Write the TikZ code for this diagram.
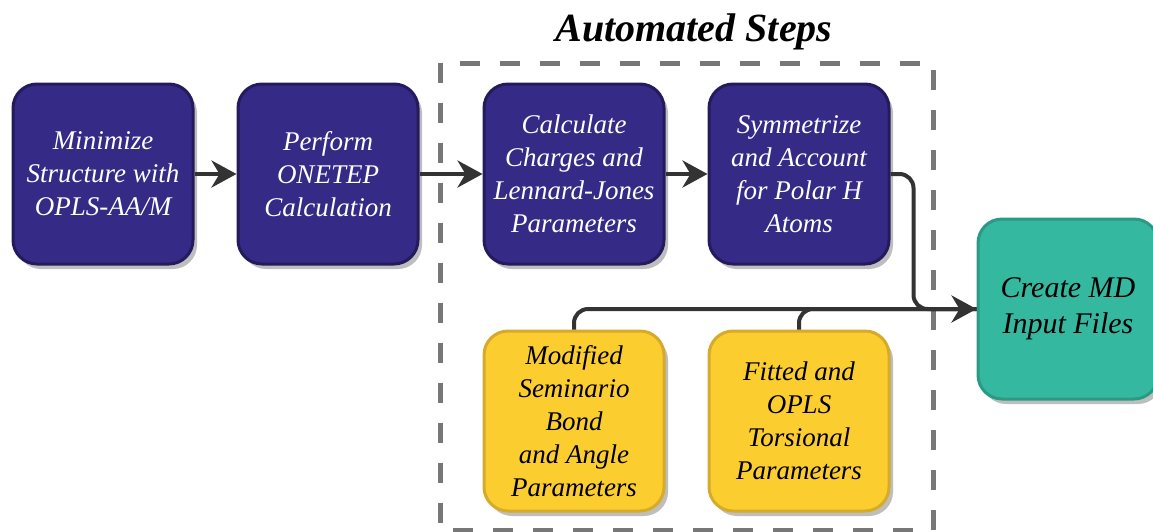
\documentclass[tikz,border=0pt]{standalone}
\usepackage{fontspec}
\setmainfont{Liberation Serif}
\usetikzlibrary{arrows.meta,shadows}
\definecolor{bluefill}{HTML}{362A87}
\definecolor{blueline}{HTML}{231B5C}
\definecolor{yelfill}{HTML}{FBCD2F}
\definecolor{yelline}{HTML}{D6AA2B}
\definecolor{grnfill}{HTML}{34B9A0}
\definecolor{grnline}{HTML}{2A9A85}
\definecolor{shadowgray}{HTML}{BEBEBE}
\definecolor{connclr}{HTML}{333333}
\definecolor{dashgray}{HTML}{777777}
\tikzset{
  stepbox/.style={rectangle, rounded corners=24pt, minimum width=180pt, minimum height=180pt,
    line width=3pt, align=center, inner sep=2pt,
    font=\fontsize{27}{33}\selectfont\itshape,
    drop shadow={shadow xshift=4pt, shadow yshift=-5pt, fill=shadowgray, opacity=1}},
  bluebox/.style={stepbox, fill=bluefill, draw=blueline, text=white},
  yelbox/.style={stepbox, fill=yelfill, draw=yelline, text=black},
  grnbox/.style={stepbox, fill=grnfill, draw=grnline, text=black,
    font=\fontsize{30}{36}\selectfont\itshape},
  conn/.style={draw=connclr, line width=4pt},
  arr/.style={conn, -{Stealth[length=25pt,width=27pt,inset=8pt]}},
  autobox/.style={draw=dashgray, line width=5pt, dash pattern=on 20pt off 20pt},
  titletext/.style={font=\fontsize{40}{44}\selectfont\bfseries\itshape, text=black}
}
\begin{document}
\begin{tikzpicture}[x=1pt,y=-1pt]
\useasboundingbox (0,0) rectangle (1153,531);
% dashed region
\draw[autobox] (440,63) rectangle (933,530);
\node[titletext] (title) at (694,32) {Automated Steps};
% nodes
\node[bluebox] (b1) at (103,174) {Minimize\\Structure with\\OPLS-AA/M};
\node[bluebox] (b2) at (328,174) {Perform\\ONETEP\\Calculation};
\node[bluebox] (b3) at (574,174) {Calculate\\Charges and\\Lennard-Jones\\Parameters};
\node[bluebox] (b4) at (799,174) {Symmetrize\\and Account\\for Polar H\\Atoms};
\node[yelbox] (y1) at (574,421) {Modified\\Seminario\\Bond\\and Angle\\Parameters};
\node[yelbox] (y2) at (799,421) {Fitted and\\OPLS\\Torsional\\Parameters};
\node[grnbox] (g) at (1068,309) {Create MD\\Input Files};
% connectors
\draw[arr] (b1) -- (b2);
\draw[arr] (b2) -- (b3);
\draw[arr] (b3) -- (b4);
\draw[conn, rounded corners=14pt] (y1.north) |- (g.west);
\draw[conn, rounded corners=14pt] (y2.north) |- (g.west);
\draw[arr, rounded corners=14pt] (b4.east) -- ++(23,0) |- (g.west);
\end{tikzpicture}
\end{document}
